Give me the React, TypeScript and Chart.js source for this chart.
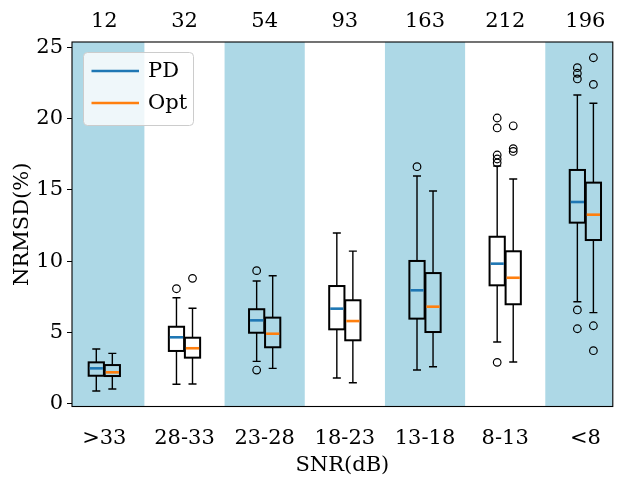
import { useEffect, useRef } from 'react';
import { Chart, registerables } from 'chart.js';

Chart.register(...registerables);

// ---- data ----
const categories = ['>33', '28-33', '23-28', '18-23', '13-18', '8-13', '<8'];
const counts = [12, 32, 54, 93, 163, 212, 196];
const yTicks = [0, 5, 10, 15, 20, 25];

const pdWhiskerLow = [0.88, 1.35, 2.96, 1.79, 2.35, 4.32, 7.15];
const pdQ1 = [1.95, 3.69, 4.97, 5.21, 5.96, 8.3, 12.7];
const pdMedian = [2.47, 4.65, 5.84, 6.66, 7.95, 9.82, 14.15];
const pdQ3 = [2.89, 5.39, 6.62, 8.25, 10.01, 11.71, 16.4];
const pdWhiskerHigh = [3.83, 7.43, 8.6, 11.97, 15.98, 16.68, 21.66];
const pdOutliers = [
  [],
  [8.06],
  [9.33, 2.35],
  [],
  [16.63],
  [20.05, 19.35, 17.45, 17.17, 16.9, 2.89],
  [23.58, 23.19, 22.79, 6.57, 5.25],
];

const optWhiskerLow = [1.02, 1.37, 2.47, 1.46, 2.58, 2.91, 6.38];
const optQ1 = [1.93, 3.22, 3.95, 4.44, 5.02, 6.97, 11.48];
const optMedian = [2.19, 3.88, 4.9, 5.79, 6.8, 8.83, 13.26];
const optQ3 = [2.7, 4.62, 6.03, 7.25, 9.16, 10.69, 15.51];
const optWhiskerHigh = [3.52, 6.69, 8.97, 10.7, 14.92, 15.77, 21.08];
const optOutliers = [
  [],
  [8.79],
  [],
  [],
  [],
  [19.5, 17.9, 17.7],
  [24.28, 22.41, 5.46, 3.71],
];

const FONT_FAMILY = "'DejaVu Serif', serif";
const FONT_SIZE = 21;

export default function App() {
  const ref = useRef<HTMLCanvasElement>(null);

  useEffect(() => {
    const canvas = ref.current;
    if (!canvas) return;

    const offset = 0.1;
    const boxW = 0.19;
    const capW = 0.1;
    const series = [
      { name: 'PD', color: '#1f77b4', lo: pdWhiskerLow, q1: pdQ1, med: pdMedian, q3: pdQ3, hi: pdWhiskerHigh, out: pdOutliers, dx: -offset },
      { name: 'Opt', color: '#ff7f0e', lo: optWhiskerLow, q1: optQ1, med: optMedian, q3: optQ3, hi: optWhiskerHigh, out: optOutliers, dx: offset },
    ];

    const font = { family: FONT_FAMILY, size: FONT_SIZE };
    const xMin = -0.403;
    const xMax = 6.342;
    const yMin = -0.21;
    const yMax = 25.386;

    const bandsPlugin = {
      id: 'bands',
      beforeDraw(chart: any) {
        const { ctx, chartArea: a, scales } = chart;
        const x = scales.x;
        ctx.save();
        ctx.beginPath();
        ctx.rect(a.left, a.top, a.right - a.left, a.bottom - a.top);
        ctx.clip();
        ctx.fillStyle = '#add8e6';
        for (let i = 0; i < categories.length; i += 2) {
          const l = x.getPixelForValue(i - 0.5);
          const r = x.getPixelForValue(i + 0.5);
          ctx.fillRect(l, a.top, r - l, a.bottom - a.top);
        }
        ctx.restore();
      },
    };

    const boxPlugin = {
      id: 'boxes',
      beforeDatasetsDraw(chart: any) {
        const { ctx, scales } = chart;
        const x = scales.x;
        const y = scales.y;
        ctx.save();
        series.forEach((s) => {
          categories.forEach((_, i) => {
            const c = i + s.dx;
            const xc = x.getPixelForValue(c);
            const xl = x.getPixelForValue(c - boxW / 2);
            const xr = x.getPixelForValue(c + boxW / 2);
            const cl = x.getPixelForValue(c - capW / 2);
            const cr = x.getPixelForValue(c + capW / 2);
            const yLo = y.getPixelForValue(s.lo[i]);
            const yQ1 = y.getPixelForValue(s.q1[i]);
            const yMed = y.getPixelForValue(s.med[i]);
            const yQ3 = y.getPixelForValue(s.q3[i]);
            const yHi = y.getPixelForValue(s.hi[i]);
            // whiskers
            ctx.strokeStyle = '#000';
            ctx.lineWidth = 1.4;
            ctx.beginPath();
            ctx.moveTo(xc, yQ1);
            ctx.lineTo(xc, yLo);
            ctx.moveTo(xc, yQ3);
            ctx.lineTo(xc, yHi);
            ctx.moveTo(cl, yLo);
            ctx.lineTo(cr, yLo);
            ctx.moveTo(cl, yHi);
            ctx.lineTo(cr, yHi);
            ctx.stroke();
            // box
            ctx.lineWidth = 2;
            ctx.strokeRect(xl, yQ3, xr - xl, yQ1 - yQ3);
            // median
            ctx.strokeStyle = s.color;
            ctx.lineWidth = 2.6;
            ctx.beginPath();
            ctx.moveTo(xl + 1, yMed);
            ctx.lineTo(xr - 1, yMed);
            ctx.stroke();
          });
        });
        ctx.restore();
      },
    };

    const framePlugin = {
      id: 'frameLegend',
      afterDraw(chart: any) {
        const { ctx, chartArea: a } = chart;
        ctx.save();
        ctx.strokeStyle = '#000';
        ctx.lineWidth = 1.1;
        ctx.strokeRect(a.left, a.top, a.right - a.left, a.bottom - a.top);

        // legend
        const lx = 83.5, ly = 52.5, lw = 110, lh = 73, r = 4;
        ctx.beginPath();
        ctx.moveTo(lx + r, ly);
        ctx.arcTo(lx + lw, ly, lx + lw, ly + lh, r);
        ctx.arcTo(lx + lw, ly + lh, lx, ly + lh, r);
        ctx.arcTo(lx, ly + lh, lx, ly, r);
        ctx.arcTo(lx, ly, lx + lw, ly, r);
        ctx.closePath();
        ctx.fillStyle = 'rgba(255,255,255,0.8)';
        ctx.fill();
        ctx.strokeStyle = '#cccccc';
        ctx.lineWidth = 1;
        ctx.stroke();

        const rows = [71, 103];
        series.forEach((s, k) => {
          ctx.strokeStyle = s.color;
          ctx.lineWidth = 2.6;
          ctx.beginPath();
          ctx.moveTo(91.5, rows[k]);
          ctx.lineTo(139, rows[k]);
          ctx.stroke();
          ctx.fillStyle = '#000';
          ctx.font = `${FONT_SIZE}px ${FONT_FAMILY}`;
          ctx.textBaseline = 'middle';
          ctx.textAlign = 'left';
          ctx.fillText(s.name, 148, rows[k] + 1);
        });
        ctx.restore();
      },
    };

    const catTicks = (s: any) => {
      s.ticks = categories.map((_, i) => ({ value: i }));
    };

    const chart = new Chart(canvas, {
      type: 'scatter',
      data: {
        datasets: series.map((s) => ({
          label: s.name,
          data: s.out.flatMap((vals, i) => vals.map((v) => ({ x: i + s.dx, y: v }))),
          pointStyle: 'circle',
          pointRadius: 3.8,
          pointBorderWidth: 1.2,
          pointBorderColor: '#000',
          pointBackgroundColor: 'rgba(0,0,0,0)',
          showLine: false,
        })),
      },
      options: {
        responsive: false,
        animation: false,
        devicePixelRatio: 1,
        layout: { padding: { left: 0, right: 1, top: 0, bottom: 0 } },
        plugins: {
          legend: { display: false },
          tooltip: { enabled: false },
        },
        scales: {
          x: {
            type: 'linear',
            position: 'bottom',
            min: xMin,
            max: xMax,
            afterBuildTicks: catTicks,
            afterFit: (s: any) => { s.height = 73.5; },
            ticks: {
              callback: (v: any) => categories[Math.round(Number(v))] ?? '',
              font,
              color: '#000',
              padding: 11,
              maxRotation: 0,
              autoSkip: false,
            },
            grid: { display: false },
            border: { display: false },
            title: { display: true, text: 'SNR(dB)', font, color: '#000', padding: { top: 0, bottom: 2 } },
          },
          xTop: {
            type: 'linear',
            position: 'top',
            min: xMin,
            max: xMax,
            afterBuildTicks: catTicks,
            afterFit: (s: any) => { s.height = 42; },
            ticks: {
              callback: (v: any) => String(counts[Math.round(Number(v))] ?? ''),
              font,
              color: '#000',
              padding: 0,
              maxRotation: 0,
              autoSkip: false,
            },
            grid: { display: false },
            border: { display: false },
          },
          y: {
            type: 'linear',
            position: 'left',
            min: yMin,
            max: yMax,
            afterBuildTicks: (s: any) => { s.ticks = yTicks.map((v) => ({ value: v })); },
            afterFit: (s: any) => { s.width = 72; },
            ticks: { font, color: '#000', padding: 4 },
            grid: { drawOnChartArea: false, drawTicks: true, tickLength: 5, color: '#000', lineWidth: 1 },
            border: { display: false },
            title: { display: true, text: 'NRMSD(%)', font, color: '#000', padding: { top: 10, bottom: 0 } },
          },
        },
      },
      plugins: [bandsPlugin, boxPlugin, framePlugin],
    } as any);

    return () => chart.destroy();
  }, []);

  return (
    <div style={{ position: 'absolute', left: 0, top: 0, width: 618, height: 480, background: '#fff' }}>
      <canvas ref={ref} width={618} height={480} />
    </div>
  );
}
